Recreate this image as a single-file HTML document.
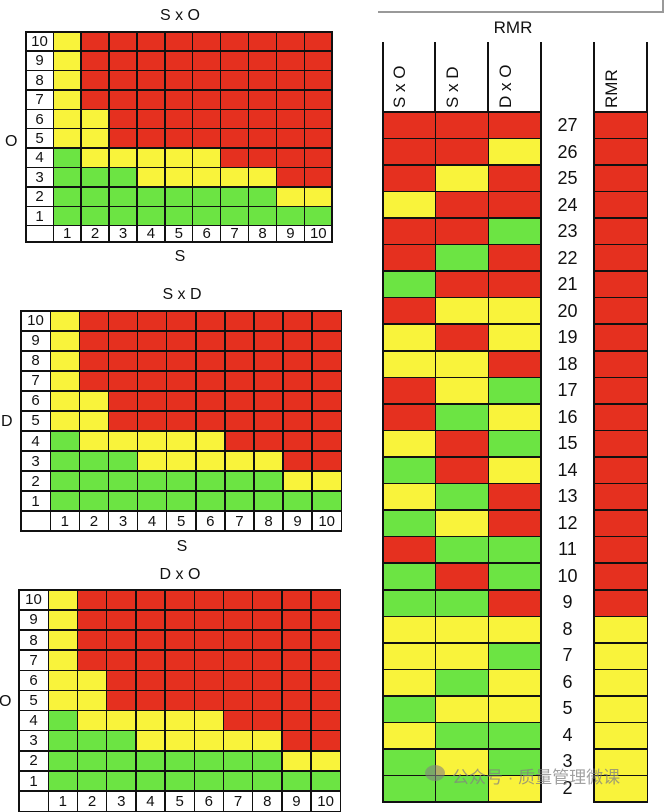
<!DOCTYPE html>
<html><head><meta charset="utf-8"><style>
body{margin:0;width:664px;height:800px;background:#fff;position:relative;overflow:hidden;font-family:"Liberation Sans",Arial,sans-serif;color:#111}
.a{position:absolute}
.m{position:absolute;display:grid;background:#111;gap:1.5px;padding:1.5px;box-sizing:border-box}
.m i{display:block;font-style:normal;background:#fff;text-align:center;font-size:15px;line-height:1;display:flex;align-items:center;justify-content:center}
.m i.r{background:#e5301f}.m i.y{background:#f9f33b}.m i.g{background:#6ce443}
.t{position:absolute;font-size:16px;transform:translateX(-50%)}
.rt{display:grid;grid-template-columns:repeat(3,1fr);grid-template-rows:repeat(26,1fr)}
.rm{display:grid;grid-template-columns:1fr;grid-template-rows:repeat(26,1fr)}
.num{position:absolute;left:541px;width:53px;top:112px;font-size:18px}
.num div{height:26.5px;line-height:26.5px;text-align:center}
.vl{position:absolute;top:42px;height:70px;width:1.5px;background:#111}
.hd{position:absolute;font-size:17px;transform:rotate(-90deg);transform-origin:left top;white-space:nowrap}
</style></head><body>

<!-- Grid 1 S x O -->
<div class="t" style="left:180px;top:7px">S x O</div>
<div class="t" style="left:180px;top:248px">S</div>
<div class="a" style="left:5px;top:133px;font-size:16px">O</div>
<div class="m" style="left:25px;top:31px;width:308px;height:212px;grid-template-columns:26px repeat(10,1fr);grid-template-rows:repeat(10,1fr) 15px">
<i>10</i><i class=y></i><i class=r></i><i class=r></i><i class=r></i><i class=r></i><i class=r></i><i class=r></i><i class=r></i><i class=r></i><i class=r></i>
<i>9</i><i class=y></i><i class=r></i><i class=r></i><i class=r></i><i class=r></i><i class=r></i><i class=r></i><i class=r></i><i class=r></i><i class=r></i>
<i>8</i><i class=y></i><i class=r></i><i class=r></i><i class=r></i><i class=r></i><i class=r></i><i class=r></i><i class=r></i><i class=r></i><i class=r></i>
<i>7</i><i class=y></i><i class=r></i><i class=r></i><i class=r></i><i class=r></i><i class=r></i><i class=r></i><i class=r></i><i class=r></i><i class=r></i>
<i>6</i><i class=y></i><i class=y></i><i class=r></i><i class=r></i><i class=r></i><i class=r></i><i class=r></i><i class=r></i><i class=r></i><i class=r></i>
<i>5</i><i class=y></i><i class=y></i><i class=r></i><i class=r></i><i class=r></i><i class=r></i><i class=r></i><i class=r></i><i class=r></i><i class=r></i>
<i>4</i><i class=g></i><i class=y></i><i class=y></i><i class=y></i><i class=y></i><i class=y></i><i class=r></i><i class=r></i><i class=r></i><i class=r></i>
<i>3</i><i class=g></i><i class=g></i><i class=g></i><i class=y></i><i class=y></i><i class=y></i><i class=y></i><i class=y></i><i class=r></i><i class=r></i>
<i>2</i><i class=g></i><i class=g></i><i class=g></i><i class=g></i><i class=g></i><i class=g></i><i class=g></i><i class=g></i><i class=y></i><i class=y></i>
<i>1</i><i class=g></i><i class=g></i><i class=g></i><i class=g></i><i class=g></i><i class=g></i><i class=g></i><i class=g></i><i class=g></i><i class=g></i>
<i></i><i>1</i><i>2</i><i>3</i><i>4</i><i>5</i><i>6</i><i>7</i><i>8</i><i>9</i><i>10</i>
</div>

<!-- Grid 2 S x D -->
<div class="t" style="left:182px;top:286px">S x D</div>
<div class="t" style="left:182px;top:538px">S</div>
<div class="a" style="left:1px;top:413px;font-size:16px">D</div>
<div class="m" style="left:20px;top:310px;width:322px;height:222px;grid-template-columns:28px repeat(10,1fr);grid-template-rows:repeat(11,1fr)">
<i>10</i><i class=y></i><i class=r></i><i class=r></i><i class=r></i><i class=r></i><i class=r></i><i class=r></i><i class=r></i><i class=r></i><i class=r></i>
<i>9</i><i class=y></i><i class=r></i><i class=r></i><i class=r></i><i class=r></i><i class=r></i><i class=r></i><i class=r></i><i class=r></i><i class=r></i>
<i>8</i><i class=y></i><i class=r></i><i class=r></i><i class=r></i><i class=r></i><i class=r></i><i class=r></i><i class=r></i><i class=r></i><i class=r></i>
<i>7</i><i class=y></i><i class=r></i><i class=r></i><i class=r></i><i class=r></i><i class=r></i><i class=r></i><i class=r></i><i class=r></i><i class=r></i>
<i>6</i><i class=y></i><i class=y></i><i class=r></i><i class=r></i><i class=r></i><i class=r></i><i class=r></i><i class=r></i><i class=r></i><i class=r></i>
<i>5</i><i class=y></i><i class=y></i><i class=r></i><i class=r></i><i class=r></i><i class=r></i><i class=r></i><i class=r></i><i class=r></i><i class=r></i>
<i>4</i><i class=g></i><i class=y></i><i class=y></i><i class=y></i><i class=y></i><i class=y></i><i class=r></i><i class=r></i><i class=r></i><i class=r></i>
<i>3</i><i class=g></i><i class=g></i><i class=g></i><i class=y></i><i class=y></i><i class=y></i><i class=y></i><i class=y></i><i class=r></i><i class=r></i>
<i>2</i><i class=g></i><i class=g></i><i class=g></i><i class=g></i><i class=g></i><i class=g></i><i class=g></i><i class=g></i><i class=y></i><i class=y></i>
<i>1</i><i class=g></i><i class=g></i><i class=g></i><i class=g></i><i class=g></i><i class=g></i><i class=g></i><i class=g></i><i class=g></i><i class=g></i>
<i></i><i>1</i><i>2</i><i>3</i><i>4</i><i>5</i><i>6</i><i>7</i><i>8</i><i>9</i><i>10</i>
</div>

<!-- Grid 3 D x O -->
<div class="t" style="left:180px;top:566px">D x O</div>
<div class="a" style="left:-1px;top:693px;font-size:16px">O</div>
<div class="m" style="left:18px;top:589px;width:323px;height:223px;grid-template-columns:28px repeat(10,1fr);grid-template-rows:repeat(11,1fr)">
<i>10</i><i class=y></i><i class=r></i><i class=r></i><i class=r></i><i class=r></i><i class=r></i><i class=r></i><i class=r></i><i class=r></i><i class=r></i>
<i>9</i><i class=y></i><i class=r></i><i class=r></i><i class=r></i><i class=r></i><i class=r></i><i class=r></i><i class=r></i><i class=r></i><i class=r></i>
<i>8</i><i class=y></i><i class=r></i><i class=r></i><i class=r></i><i class=r></i><i class=r></i><i class=r></i><i class=r></i><i class=r></i><i class=r></i>
<i>7</i><i class=y></i><i class=r></i><i class=r></i><i class=r></i><i class=r></i><i class=r></i><i class=r></i><i class=r></i><i class=r></i><i class=r></i>
<i>6</i><i class=y></i><i class=y></i><i class=r></i><i class=r></i><i class=r></i><i class=r></i><i class=r></i><i class=r></i><i class=r></i><i class=r></i>
<i>5</i><i class=y></i><i class=y></i><i class=r></i><i class=r></i><i class=r></i><i class=r></i><i class=r></i><i class=r></i><i class=r></i><i class=r></i>
<i>4</i><i class=g></i><i class=y></i><i class=y></i><i class=y></i><i class=y></i><i class=y></i><i class=r></i><i class=r></i><i class=r></i><i class=r></i>
<i>3</i><i class=g></i><i class=g></i><i class=g></i><i class=y></i><i class=y></i><i class=y></i><i class=y></i><i class=y></i><i class=r></i><i class=r></i>
<i>2</i><i class=g></i><i class=g></i><i class=g></i><i class=g></i><i class=g></i><i class=g></i><i class=g></i><i class=g></i><i class=y></i><i class=y></i>
<i>1</i><i class=g></i><i class=g></i><i class=g></i><i class=g></i><i class=g></i><i class=g></i><i class=g></i><i class=g></i><i class=g></i><i class=g></i>
<i></i><i>1</i><i>2</i><i>3</i><i>4</i><i>5</i><i>6</i><i>7</i><i>8</i><i>9</i><i>10</i>
</div>

<!-- Right table -->
<div class="a" style="left:378px;top:11px;width:286px;height:1.5px;background:#999"></div>
<div class="a" style="left:662px;top:0;width:1.5px;height:12px;background:#999"></div>
<div class="t" style="left:513px;top:18px;font-size:17px">RMR</div>
<div class="vl" style="left:382px"></div><div class="vl" style="left:434px"></div><div class="vl" style="left:487px"></div><div class="vl" style="left:540px"></div>
<div class="vl" style="left:593px"></div><div class="vl" style="left:646px"></div>
<div class="hd" style="left:390px;top:108px">S x O</div>
<div class="hd" style="left:443px;top:108px">S x D</div>
<div class="hd" style="left:496px;top:108px">D x O</div>
<div class="hd" style="left:602px;top:108px">RMR</div>

<div class="m rt" style="left:382px;top:111px;width:160px;height:692px">
<i class=r></i><i class=r></i><i class=r></i>
<i class=r></i><i class=r></i><i class=y></i>
<i class=r></i><i class=y></i><i class=r></i>
<i class=y></i><i class=r></i><i class=r></i>
<i class=r></i><i class=r></i><i class=g></i>
<i class=r></i><i class=g></i><i class=r></i>
<i class=g></i><i class=r></i><i class=r></i>
<i class=r></i><i class=y></i><i class=y></i>
<i class=y></i><i class=r></i><i class=y></i>
<i class=y></i><i class=y></i><i class=r></i>
<i class=r></i><i class=y></i><i class=g></i>
<i class=r></i><i class=g></i><i class=y></i>
<i class=y></i><i class=r></i><i class=g></i>
<i class=g></i><i class=r></i><i class=y></i>
<i class=y></i><i class=g></i><i class=r></i>
<i class=g></i><i class=y></i><i class=r></i>
<i class=r></i><i class=g></i><i class=g></i>
<i class=g></i><i class=r></i><i class=g></i>
<i class=g></i><i class=g></i><i class=r></i>
<i class=y></i><i class=y></i><i class=y></i>
<i class=y></i><i class=y></i><i class=g></i>
<i class=y></i><i class=g></i><i class=y></i>
<i class=g></i><i class=y></i><i class=y></i>
<i class=y></i><i class=g></i><i class=g></i>
<i class=g></i><i class=y></i><i class=g></i>
<i class=g></i><i class=g></i><i class=y></i>
</div>
<div class="m rm" style="left:593px;top:111px;width:55px;height:692px">
<i class=r></i><i class=r></i><i class=r></i><i class=r></i><i class=r></i><i class=r></i><i class=r></i><i class=r></i><i class=r></i><i class=r></i>
<i class=r></i><i class=r></i><i class=r></i><i class=r></i><i class=r></i><i class=r></i><i class=r></i><i class=r></i><i class=r></i>
<i class=y></i><i class=y></i><i class=y></i><i class=y></i><i class=y></i><i class=y></i><i class=y></i>
</div>
<div class="num">
<div>27</div><div>26</div><div>25</div><div>24</div><div>23</div><div>22</div><div>21</div><div>20</div><div>19</div><div>18</div><div>17</div><div>16</div><div>15</div><div>14</div><div>13</div><div>12</div><div>11</div><div>10</div><div>9</div><div>8</div><div>7</div><div>6</div><div>5</div><div>4</div><div>3</div><div>2</div>
</div>
<div class="a" style="left:452px;top:763px;font-size:17px;color:rgba(130,130,130,0.75);font-family:'Liberation Sans','Noto Sans CJK SC',sans-serif;white-space:nowrap">公众号 · 质量管理微课</div>
<div class="a" style="left:425px;top:765px;width:20px;height:16px;border-radius:50%;background:rgba(130,130,130,0.6)"></div>
</body></html>
